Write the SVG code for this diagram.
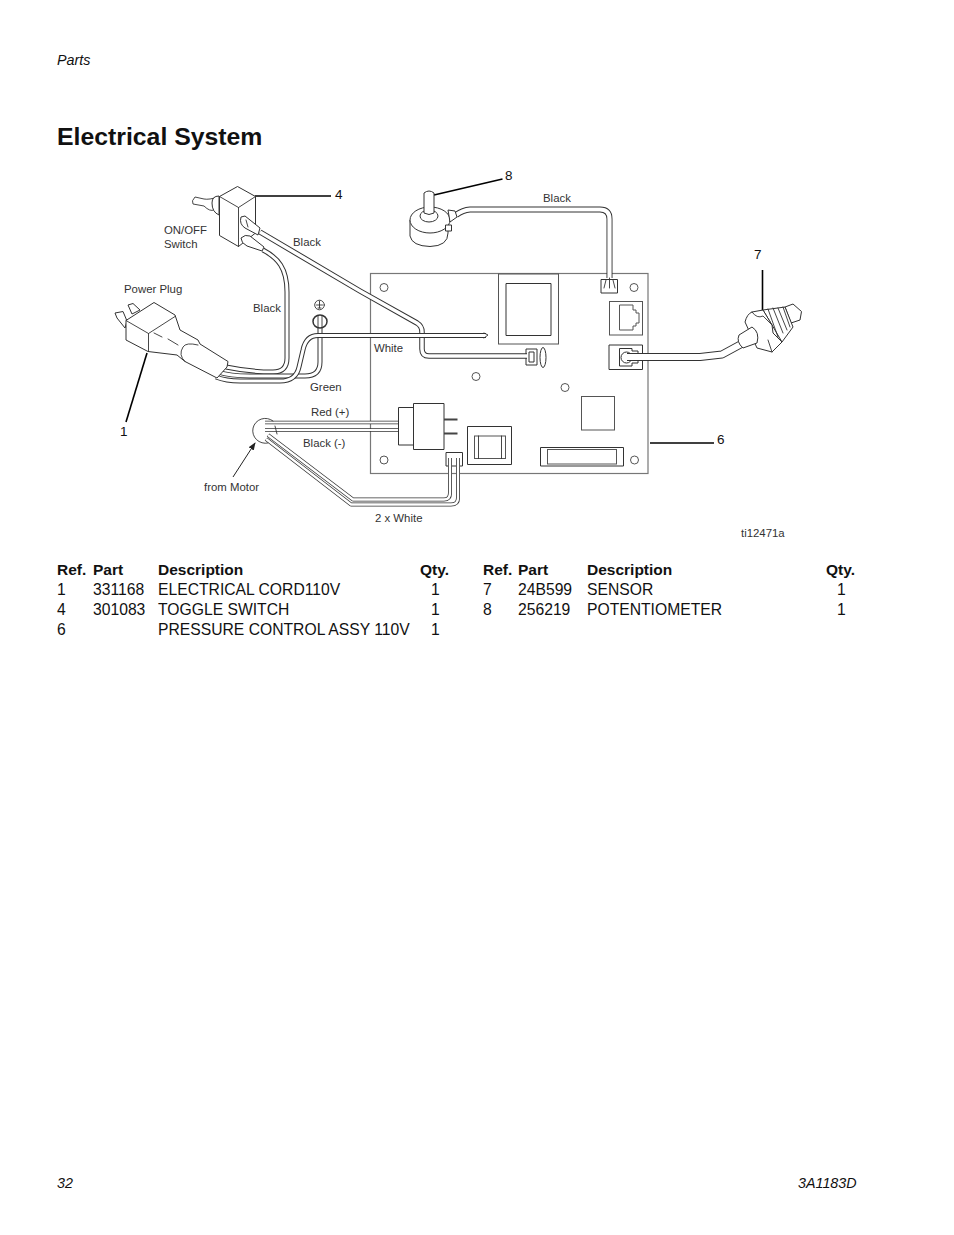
<svg xmlns="http://www.w3.org/2000/svg" width="954" height="1235" viewBox="0 0 954 1235">
<style>
text{font-family:"Liberation Sans",Arial,sans-serif;fill:#111}
.t{font-size:15.7px}.b{font-size:15.5px;font-weight:bold}
.s{font-size:11.4px;fill:#333}.n{font-size:13.5px}
.i{font-size:14.3px;font-style:italic}
.k{fill:none;stroke:#333;stroke-width:.9;stroke-linejoin:round;stroke-linecap:round}
.w{fill:#fff;stroke:#333;stroke-width:1;stroke-linejoin:round}
.g{fill:#fff;stroke:#555;stroke-width:1}
.o{fill:none;stroke:#333;stroke-linejoin:round}
.in{fill:none;stroke:#fff;stroke-linejoin:round}
.l{fill:none;stroke:#000;stroke-width:1.6}
</style>
<defs><marker id="ah" markerWidth="8" markerHeight="8" refX="7" refY="3" orient="auto"><path d="M0,0L8,3L0,6z" fill="#222"/></marker></defs>
<rect width="954" height="1235" fill="#fff"/>
<text class="i" x="57" y="65">Parts</text>
<text x="57" y="145" style="font-size:24.800px;font-weight:bold">Electrical System</text>

<g id="board">
<rect x="370.500" y="273.500" width="277.500" height="200" fill="#fff" stroke="#777" stroke-width="1.200"/>
<circle class="g" cx="384" cy="287.500" r="4"/><circle class="g" cx="634" cy="287.500" r="4"/>
<circle class="g" cx="476" cy="376.500" r="4"/><circle class="g" cx="565" cy="387.500" r="4"/>
<circle class="g" cx="384" cy="460" r="4"/><circle class="g" cx="634.500" cy="460" r="4"/>
<rect class="g" x="498.500" y="274" width="60" height="70"/>
<rect class="w" x="506" y="283.500" width="45" height="52"/>
<rect class="g" x="609.500" y="301.500" width="33" height="33.500"/>
<path class="g" d="M619.500,305V330H633V326H636V323H639V313H636V310H633V305Z"/>
<rect class="w" x="609" y="345" width="33.500" height="24.500"/>
<path class="w" d="M619.500,348.500H632V351H638V363H632V366H619.500Z"/>
<circle class="w" cx="626.500" cy="357.500" r="5.500"/>
<rect class="g" x="581.500" y="396.500" width="33" height="33.500"/>
<rect class="w" x="540.500" y="447.500" width="83" height="18.500"/>
<rect class="g" x="547.500" y="449.500" width="69" height="14.500"/>
<rect class="w" x="467.500" y="426.500" width="44" height="38"/>
<rect class="g" x="474.500" y="436" width="31" height="22.500"/>
<path class="k" d="M478.500,436V458.500M501.500,436V458.500"/>
<rect class="w" x="526" y="349" width="11" height="16"/>
<rect class="w" x="529" y="352" width="5" height="10"/>
<ellipse class="w" cx="543" cy="357.500" rx="3" ry="10"/>
<rect class="w" x="601" y="279.500" width="16.500" height="13.500"/>
<rect class="w" x="446" y="452.500" width="16.500" height="13.500"/>
</g>

<g id="connectors">
<path class="o" stroke-width="6" d="M456,215Q463,210 470,209.500H600Q609.500,209.500 609.500,219V278"/>
<path class="in" stroke-width="4.200" d="M456,215Q463,210 470,209.500H600Q609.500,209.500 609.500,219V278"/>
<path class="k" d="M606,280L604,288M609.500,278V288M613,280L615,288"/>
<path class="o" stroke-width="5.500" d="M260,232L360,291L417,323Q422,326 422,332V349Q422,356 429,356H527"/>
<path class="in" stroke-width="3.500" d="M260,232L360,291L417,323Q422,326 422,332V349Q422,356 429,356H527"/>
<path class="o" stroke-width="5" d="M263,250C278,258 287,268 287,292V358Q287,372 273,372Q250,372 226,367"/>
<path class="in" stroke-width="3" d="M263,250C278,258 287,268 287,292V358Q287,372 273,372Q250,372 226,367"/>
<path class="o" stroke-width="5" d="M320,328V362Q320,376 305,376H250Q230,376 218,372"/>
<path class="in" stroke-width="3" d="M320,328V362Q320,376 305,376H250Q230,376 218,372"/>
<path class="o" stroke-width="5" d="M486,335.500H318Q306,335.500 303,350L299,367Q296,381 280,381H240Q226,381 216,377"/>
<path class="in" stroke-width="3" d="M486,335.500H318Q306,335.500 303,350L299,367Q296,381 280,381H240Q226,381 216,377"/>
<path class="k" stroke-width="1.500" d="M484,333L488,335L484,338"/>
<path class="o" stroke-width="3.500" d="M265,422.500H398M265,430H398"/>
<path class="in" stroke-width="2" d="M265,422.500H398M265,430H398"/>
<path class="o" stroke-width="4" d="M268,435L353,499.500H444Q450,499.500 450,493V458"/>
<path class="in" stroke-width="2.400" d="M268,435L353,499.500H444Q450,499.500 450,493V458"/>
<path class="o" stroke-width="4" d="M266,439L351,504.500H451Q458,504.500 458,498V458"/>
<path class="in" stroke-width="2.400" d="M266,439L351,504.500H451Q458,504.500 458,498V458"/>
<path class="o" stroke-width="8" d="M627,357H700L722,354.500L745,342"/>
<path class="in" stroke-width="6" d="M627,357H700L722,354.500L745,342"/>
<path class="l" d="M255,196H331"/>
<path class="l" d="M147,353L126,422"/>
<path class="l" stroke-width="2" d="M650,443H714"/>
<path class="l" d="M762.500,270V311"/>
<path class="l" d="M434,195L502.500,179"/>
<path fill="none" stroke="#222" stroke-width="1" d="M233,477L255,443" marker-end="url(#ah)"/>
</g>

<g id="switch">
<path class="k" d="M218,197Q209,200 204,199L195,197Q191,201 193,204L204,206Q210,212 214,210"/>
<path class="w" d="M212,203Q212,196 219,196V215Q212,212 212,203Z"/>
<path class="w" d="M219.500,196.500L237.500,186.500L255.500,196.500V233L238.500,246.500L219.500,235.500Z"/>
<path class="k" d="M219.500,196.500L238.500,207.500L255.500,196.500M238.500,207.500V246.500"/>
<path class="w" d="M241,217L245,216L260,228L258,235L245,228Q239,224 241,217Z"/>
<path class="w" d="M241,238Q245,234 250,236L264,247L262,251L247,246Q241,243 241,238Z"/>
<path class="k" d="M246,220L248,227"/>
</g>

<g id="plug">
<path class="w" d="M115,313L123,311.500L127,321L125,328L117,318Z"/>
<path class="w" d="M128,305L133,303.500L140,310L132,314Z"/>
<path class="w" d="M126,320.500L154,302.500L175,315L180,330L198,340L200,344L228,361.500L227,367L217,378L185,361.500L177,355L148,351.500L126,340Z"/>
<path class="k" d="M126,320.500L148.500,333.500L175,316.500M148.500,333.500V351.500M154,333L162,337M168,339L178,345"/>
<path class="k" d="M198,345Q186,342 183,347Q178,355 185,361.500"/>
</g>

<g id="ground">
<circle class="k" cx="319.500" cy="305" r="4.800"/>
<path class="k" d="M319.500,301V308M316.500,305H322.500M318,308H321"/>
<ellipse cx="320" cy="321.500" rx="7" ry="6.500" fill="#fff" stroke="#333" stroke-width="1.500"/>
<path class="k" d="M318,316V327M322,316V327"/>
</g>

<g id="potentiometer">
<path class="w" d="M410,220V236Q412,246 430,246.500Q448,246 448,233V220Z"/>
<ellipse class="w" cx="430" cy="220" rx="20" ry="13"/>
<path class="w" d="M448,210L455,211L457,217L450,222Z"/>
<rect class="w" x="445.500" y="225" width="6" height="6"/>
<ellipse class="w" cx="429" cy="216" rx="9" ry="6"/>
<path class="w" d="M424,193Q429,189 434,193V213Q429,216 424,213Z"/>
</g>

<g id="motor">
<path class="k" d="M273,421A12.500,12.500 0 1 0 268,443"/>
<path class="k" d="M275,426L277,434"/>
</g>

<g id="relay">
<rect class="w" x="398.500" y="407.500" width="15" height="37.500"/>
<rect class="w" x="413.500" y="403.500" width="30.500" height="46"/>
<path fill="none" stroke="#444" stroke-width="2" d="M444,419.500H457.500M444,433.500H457.500"/>
</g>

<g id="sensor">
<path class="w" d="M785,307L793,304L801.500,311.500L800,320L791,323Z"/>
<path class="w" d="M763,310L785,307L793,327L782,342L772,325Z"/>
<path class="k" d="M768,309L778,337M773,308L783,333M778,308L787,330M783,307L790,327"/>
<path class="w" d="M745,322Q747,314 752,312L763,310L772,325L773,333L782,342L772,352L757,348Z"/>
<path class="k" d="M752,312Q757,319 763,316L772,325M772,352L768,340"/>
<path class="w" d="M739,335L752,327Q760,332 757,343L743,348Q736,342 739,335Z"/>
</g>

<g id="labels">
<text class="s" x="164" y="234">ON/OFF</text><text class="s" x="164" y="248">Switch</text>
<text class="s" x="293" y="246">Black</text><text class="s" x="124" y="293">Power Plug</text>
<text class="s" x="253" y="312">Black</text><text class="s" x="374" y="352">White</text>
<text class="s" x="310" y="391">Green</text><text class="s" x="311" y="416">Red (+)</text>
<text class="s" x="303" y="447">Black (-)</text><text class="s" x="204" y="491">from Motor</text>
<text class="s" x="375" y="522">2 x White</text><text class="s" x="543" y="202">Black</text>
<text class="s" x="741" y="537">ti12471a</text>
<text class="n" x="335" y="199">4</text><text class="n" x="505" y="180">8</text>
<text class="n" x="754" y="259">7</text><text class="n" x="717" y="444">6</text>
<text class="n" x="120" y="436">1</text>
</g>

<g id="table-left">
<text class="b" x="57" y="574.500">Ref.</text><text class="b" x="93" y="574.500">Part</text><text class="b" x="158" y="574.500">Description</text><text class="b" x="420" y="574.500">Qty.</text>
<text class="t" x="57" y="594.500">1</text><text class="t" x="93" y="594.500">331168</text><text class="t" x="158" y="594.500">ELECTRICAL CORD110V</text><text class="t" x="431" y="594.500">1</text>
<text class="t" x="57" y="614.500">4</text><text class="t" x="93" y="614.500">301083</text><text class="t" x="158" y="614.500">TOGGLE SWITCH</text><text class="t" x="431" y="614.500">1</text>
<text class="t" x="57" y="634.500">6</text><text class="t" x="158" y="634.500">PRESSURE CONTROL ASSY 110V</text><text class="t" x="431" y="634.500">1</text>
</g>
<g id="table-right">
<text class="b" x="483" y="574.500">Ref.</text><text class="b" x="518" y="574.500">Part</text><text class="b" x="587" y="574.500">Description</text><text class="b" x="826" y="574.500">Qty.</text>
<text class="t" x="483" y="594.500">7</text><text class="t" x="518" y="594.500">24B599</text><text class="t" x="587" y="594.500">SENSOR</text><text class="t" x="837" y="594.500">1</text>
<text class="t" x="483" y="614.500">8</text><text class="t" x="518" y="614.500">256219</text><text class="t" x="587" y="614.500">POTENTIOMETER</text><text class="t" x="837" y="614.500">1</text>
</g>
<text class="i" x="57" y="1188">32</text>
<text class="i" x="798" y="1188">3A1183D</text>
</svg>
